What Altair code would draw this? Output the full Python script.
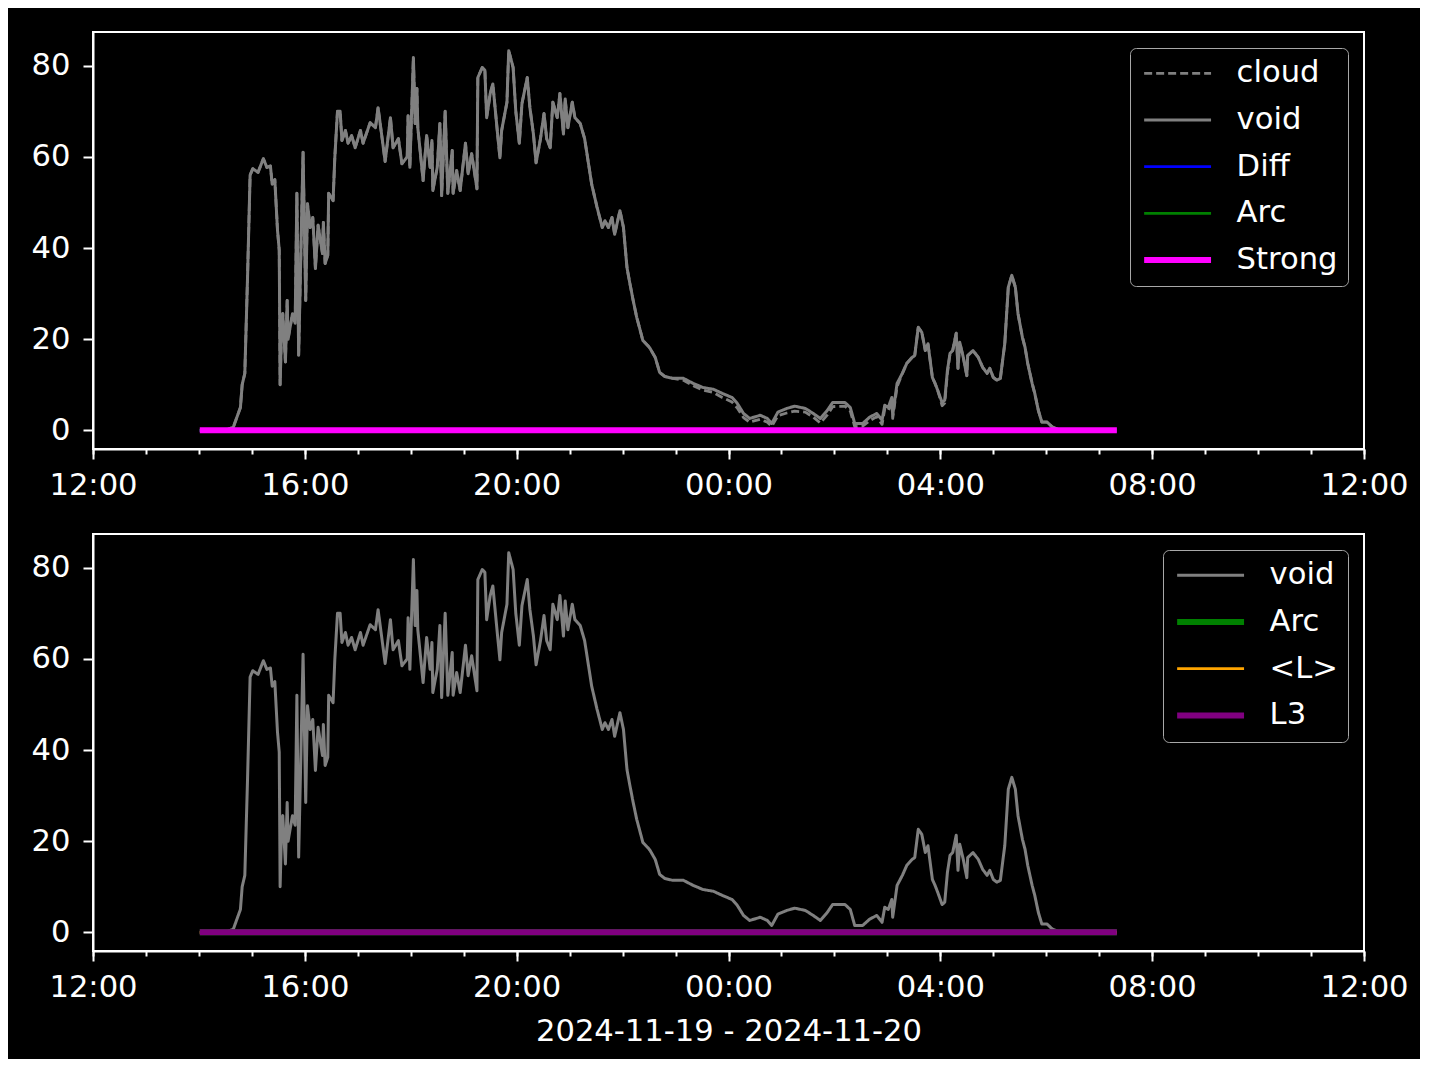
import altair as alt
import pandas as pd

# ---------------- data (minutes after 2024-11-19 12:00) ----------------
minutes = [
    121, 150, 159, 167, 169, 172, 175, 178, 181, 187,
    193, 197, 201, 203, 206, 209, 211, 212, 214, 215,
    218, 220, 221, 226, 229, 231, 233, 238, 241, 243,
    246, 249, 252, 255, 260, 261, 263, 266, 267, 272,
    274, 277, 280, 282, 286, 289, 293, 297, 303, 306,
    314, 320, 323, 331, 337, 340, 346, 350, 356, 357,
    359, 363, 365, 367, 368, 374, 378, 382, 384, 385,
    390, 393, 395, 399, 402, 407, 408, 412, 416, 422,
    425, 429, 435, 436, 441, 444, 446, 450, 453, 458,
    461, 463, 469, 471, 476, 479, 483, 486, 492, 495,
    499, 502, 507, 511, 514, 518, 521, 526, 529, 533,
    535, 538, 543, 546, 552, 557, 561, 565, 571, 577,
    580, 584, 588, 591, 597, 601, 605, 608, 612, 616,
    620, 623, 629, 631, 637, 642, 648, 657, 669, 680,
    691, 703, 713, 724, 730, 737, 744, 756, 764, 769,
    776, 786, 795, 807, 816, 824, 832, 838, 852, 858,
    863, 872, 880, 888, 894, 897, 901, 905, 906, 911,
    917, 922, 928, 931, 935, 939, 943, 946, 951, 954,
    957, 962, 965, 968, 971, 974, 978, 980, 982, 986,
    990, 991, 997, 1003, 1008, 1013, 1016, 1020, 1024, 1028,
    1031, 1033, 1037, 1041, 1045, 1048, 1053, 1056, 1059, 1064,
    1067, 1071, 1075, 1081, 1087, 1096, 1160,
]

void_vals = [
    0, 0, 0.7, 5, 10, 12.5, 33, 56, 57.4, 56.6,
    59.6, 57.7, 58, 54, 55, 44, 39.5, 10, 25, 25.6,
    15, 28.5, 20, 25.6, 23.5, 52, 16.5, 61, 28.5, 49.7,
    44.5, 46.7, 35.5, 45, 38.8, 45.6, 36.6, 38.4, 52, 50.4,
    60, 70, 70, 63.6, 65.8, 63, 64.7, 62, 65.8, 63,
    67.5, 66.4, 70.8, 59, 68.6, 62, 64, 58.5, 60, 69,
    57.7, 81.8, 67.3, 75, 66.4, 54.8, 64.7, 57.7, 63.6, 52.6,
    57.7, 67.3, 51.5, 70, 52, 61.4, 52, 57, 52.6, 63,
    56.3, 60.7, 53, 77.4, 79.6, 79, 68.6, 73.9, 76, 65.8,
    59.8, 65.8, 72, 83.3, 79.6, 70, 63, 71.7, 77.4, 70.8,
    65, 58.7, 64, 69.5, 64, 62, 72, 68.6, 73.9, 65,
    72.7, 66.4, 72, 68.6, 67.3, 64, 59, 54, 49, 44.5,
    46, 44.5, 46.7, 43, 48.2, 44.5, 35.7, 32.5, 28.5, 24.8,
    21.9, 19.7, 18.5, 18, 16, 12.7, 11.8, 11.4, 11.4, 10.3,
    9.4, 9, 8.1, 7.2, 5.9, 3.7, 2.6, 3.3, 2.6, 1.5,
    4, 4.8, 5.3, 4.8, 3.7, 2.6, 4.4, 6.1, 6.1, 5,
    1.5, 1.5, 2.9, 3.7, 2.2, 5.5, 5, 7.2, 3.3, 10.3,
    12.5, 14.7, 16, 16.4, 22.6, 21.5, 17.5, 19, 11.6, 10.3,
    8.8, 6.1, 6.6, 13.1, 16.9, 17.5, 21.3, 13.6, 19.3, 16,
    12, 16.4, 17.5, 16, 13.8, 12.5, 13.6, 11.6, 11, 11.4,
    16, 19, 31.4, 34, 31.4, 25.6, 20.4, 18.2, 14.7, 10.3,
    8.1, 4.4, 1.8, 1.8, 0.7, 0, 0,
]

cloud_vals = [
    0, 0, 0.7, 5, 10, 12.5, 33, 56, 57.4, 56.6,
    59.6, 57.7, 58, 54, 55, 44, 39.5, 10, 25, 25.6,
    15, 28.5, 20, 25.6, 23.5, 52, 16.5, 61, 28.5, 49.7,
    44.5, 46.7, 35.5, 45, 38.8, 45.6, 36.6, 38.4, 52, 50.4,
    60, 70, 70, 63.6, 65.8, 63, 64.7, 62, 65.8, 63,
    67.5, 66.4, 70.8, 59, 68.6, 62, 64, 58.5, 60, 69,
    57.7, 81.8, 67.3, 75, 66.4, 54.8, 64.7, 57.7, 63.6, 52.6,
    57.7, 67.3, 51.5, 70, 52, 61.4, 52, 57, 52.6, 63,
    56.3, 60.7, 53, 77.4, 79.6, 79, 68.6, 73.9, 76, 65.8,
    59.8, 65.8, 72, 83.3, 79.6, 70, 63, 71.7, 77.4, 70.8,
    65, 58.7, 64, 69.5, 64, 62, 72, 68.6, 73.9, 65,
    72.7, 66.4, 72, 68.6, 67.3, 64, 59, 54, 49, 44.5,
    46, 44.5, 46.7, 43, 48.2, 44.5, 35.7, 32.5, 28.5, 24.8,
    21.9, 19.7, 18.5, 18, 16, 12.7, 11.8, 11.4, 11.0, 9.8,
    8.8, 8.3, 7.2, 6.2, 4.9, 2.8, 1.8, 2.4, 1.8, 0.9,
    3.2, 3.8, 4.2, 4.0, 2.9, 1.6, 3.4, 5.2, 5.3, 4.2,
    0.8, 0.9, 2.1, 3.0, 1.3, 4.6, 4.2, 6.4, 2.6, 9.6,
    12.5, 14.7, 16, 16.4, 22.6, 21.5, 17.5, 19, 11.6, 10.3,
    8.8, 5.4, 6.0, 12.5, 16.9, 17.5, 21.3, 13.6, 19.3, 16,
    12, 16.4, 17.5, 16, 13.8, 12.5, 13.6, 11.6, 11, 11.4,
    16, 19, 31.4, 34, 31.4, 25.6, 20.4, 18.2, 14.7, 10.3,
    8.1, 4.4, 1.8, 1.8, 0.7, 0, 0,
]

flat_minutes = [121, 1160]
flat_vals = [0, 0]

top_series = ["cloud", "void", "Diff", "Arc", "Strong"]
top_colors = ["#808080", "#808080", "#0000ff", "#008000", "#ff00ff"]
top_dashes = [[8, 4], [1, 0], [1, 0], [1, 0], [1, 0]]
top_widths = [2.8, 3.0, 2.8, 2.8, 6.0]

bottom_series = ["void", "Arc", "<L>", "L3"]
bottom_colors = ["#808080", "#008000", "#ffa500", "#800080"]
bottom_dashes = [[1, 0], [1, 0], [1, 0], [1, 0]]
bottom_widths = [3.0, 6.0, 2.8, 6.0]

y_ticks = [0, 20, 40, 60, 80]
major_hours = [(19, 12), (19, 16), (19, 20), (20, 0), (20, 4), (20, 8), (20, 12)]
x_title = "2024-11-19 - 2024-11-20"

# ---------------- build tables ----------------
BASE = pd.Timestamp("2024-11-19 12:00")
FONT = "DejaVu Sans"
FS = 30.6


def rows(name, mins, vals):
    return [
        {"time": (BASE + pd.Timedelta(minutes=m)).strftime("%Y-%m-%dT%H:%M:%S"),
         "value": v, "series": name}
        for m, v in zip(mins, vals)
    ]


series_data = {
    "cloud": (minutes, cloud_vals),
    "void": (minutes, void_vals),
    "Diff": (flat_minutes, flat_vals),
    "Arc": (flat_minutes, flat_vals),
    "Strong": (flat_minutes, flat_vals),
    "<L>": (flat_minutes, flat_vals),
    "L3": (flat_minutes, flat_vals),
}

major_values = [alt.DateTime(year=2024, month=11, date=d, hours=h) for d, h in major_hours]
minor_values = []
for k in range(25):
    t = BASE + pd.Timedelta(hours=k)
    minor_values.append(alt.DateTime(year=t.year, month=t.month, date=t.day, hours=t.hour))

x_domain = [alt.DateTime(year=2024, month=11, date=19, hours=12),
            alt.DateTime(year=2024, month=11, date=20, hours=12)]

SYM = 22.3  # legend symbol unit; the path below spans 3 units


def panel(names, colors, dashes, widths, title=None):
    df = pd.DataFrame([r for n in names for r in rows(n, *series_data[n])])
    legend = alt.Legend(
        title=None, orient="top-right", offset=16, symbolType="M-1,0H5",
        symbolSize=SYM * SYM, labelFontSize=FS, labelFont=FONT, labelColor="white",
        labelOffset=66, strokeColor="#a8a8a8", fillColor="black",
        cornerRadius=6, padding=10, rowPadding=15.7, labelLimit=400,
    )
    layers = []
    for i, name in enumerate(names):
        if i == 0:
            ax = alt.Axis(values=major_values, format="%H:%M", orient="bottom",
                          tickSize=10, labelPadding=11, labelFontSize=FS, labelFont=FONT,
                          labelColor="white", tickColor="white", tickWidth=2,
                          domainColor="white", domainWidth=2, grid=False,
                          labelFlush=False, labelOverlap=False,
                          title=title, titleFont=FONT, titleFontSize=FS,
                          titleFontWeight="normal", titleColor="white", titlePadding=14)
        elif i == 1:
            ax = alt.Axis(values=minor_values, orient="bottom", labels=False,
                          tickSize=5, tickColor="white", tickWidth=2, domain=False,
                          grid=False, title=None)
        else:
            ax = None
        layer = alt.Chart(df).transform_filter(
            alt.datum.series == name
        ).mark_line(strokeJoin="round").encode(
            x=alt.X("time:T", scale=alt.Scale(domain=x_domain), axis=ax),
            y=alt.Y("value:Q",
                    scale=alt.Scale(domain=[-4.1, 87.4], nice=False, zero=False),
                    axis=alt.Axis(values=y_ticks, title=None, tickSize=10,
                                  labelPadding=13, labelFontSize=FS, labelFont=FONT,
                                  labelColor="white", tickColor="white", tickWidth=2,
                                  domainColor="white", domainWidth=2, grid=False)),
            color=alt.Color("series:N", scale=alt.Scale(domain=names, range=colors),
                            legend=legend),
            strokeDash=alt.StrokeDash("series:N",
                                      scale=alt.Scale(domain=names, range=dashes),
                                      legend=legend),
            strokeWidth=alt.StrokeWidth("series:N",
                                        scale=alt.Scale(type="ordinal", domain=names,
                                                        range=widths),
                                        legend=legend),
        )
        layers.append(layer)
    return alt.layer(*layers).resolve_axis(x="independent").properties(
        width=1271, height=417
    )


top = panel(top_series, top_colors, top_dashes, top_widths)
bottom = panel(bottom_series, bottom_colors, bottom_dashes, bottom_widths, title=x_title)

chart = alt.vconcat(top, bottom, spacing=31).resolve_scale(
    color="independent", strokeDash="independent", strokeWidth="independent"
).properties(
    padding={"left": 22, "top": 23, "right": 10, "bottom": 10},
    background="black",
).configure_view(
    stroke="white", strokeWidth=2
)

chart.save("out.html", embed_options={"renderer": "svg", "actions": False})
